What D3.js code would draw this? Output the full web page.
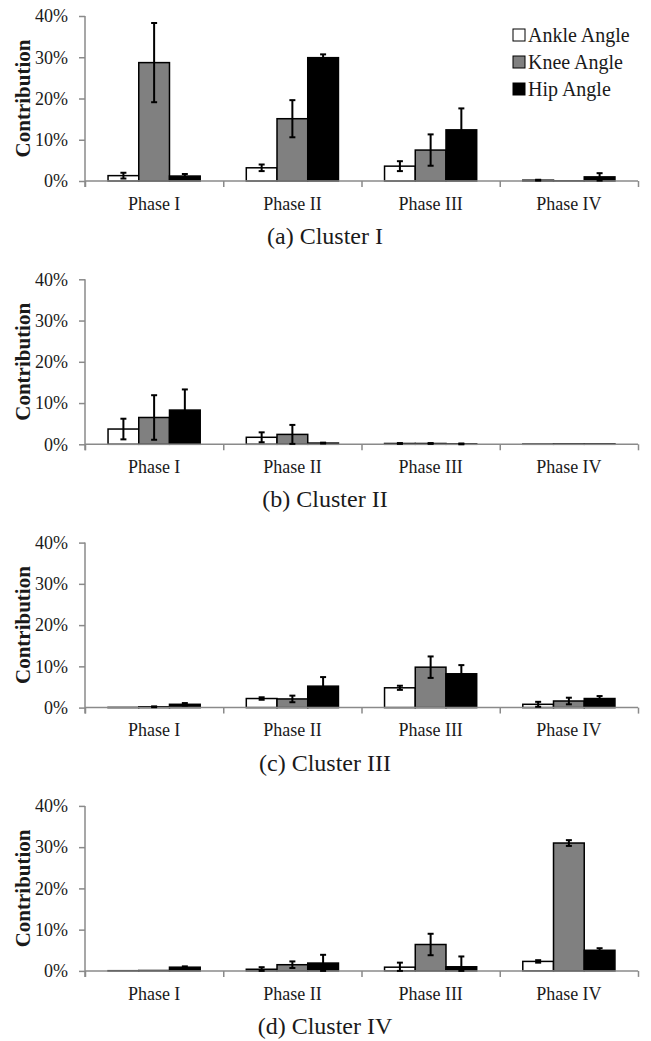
<!DOCTYPE html>
<html>
<head>
<meta charset="utf-8">
<script src="https://cdn.jsdelivr.net/npm/d3@7"></script>
<style>
  body { margin: 0; background: #fff; }
  svg { display: block; }
  text { font-family: "Liberation Serif", "Times New Roman", serif; fill: #1a1a1a; }
</style>
</head>
<body>
<div id="chart"></div>
<script>
// categories and series
const phases = ["Phase I", "Phase II", "Phase III", "Phase IV"];
const joints = ["Ankle Angle", "Knee Angle", "Hip Angle"];
const panelTitles = ["(a) Cluster I", "(b) Cluster II", "(c) Cluster III", "(d) Cluster IV"];
const yTicks = [0, 10, 20, 30, 40];

// mean contribution (%) per phase: [ankle, knee, hip]
const clusterIMeans   = [[1.3, 28.7, 1.2], [3.2, 15.1, 29.9], [3.6, 7.5, 12.4], [0.2, 0.05, 1.0]];
const clusterIErr     = [[0.7, 9.6, 0.5], [0.8, 4.5, 0.8], [1.2, 3.8, 5.2], [0.1, 0, 0.9]];
const clusterIIMeans  = [[3.7, 6.5, 8.3], [1.7, 2.4, 0.3], [0.2, 0.2, 0.1], [0.05, 0.1, 0.1]];
const clusterIIErr    = [[2.5, 5.4, 5.0], [1.2, 2.3, 0.1], [0.1, 0.1, 0.1], [0, 0, 0]];
const clusterIIIMeans = [[0.05, 0.2, 0.8], [2.2, 2.1, 5.2], [4.8, 9.8, 8.2], [0.8, 1.6, 2.2]];
const clusterIIIErr   = [[0, 0.1, 0.3], [0.3, 0.8, 2.2], [0.5, 2.6, 2.1], [0.6, 0.8, 0.6]];
const clusterIVMeans  = [[0.05, 0.1, 0.9], [0.4, 1.5, 1.9], [0.9, 6.4, 1.0], [2.3, 31.0, 5.0]];
const clusterIVErr    = [[0, 0, 0.2], [0.5, 0.8, 2.0], [1.1, 2.6, 2.5], [0.3, 0.7, 0.5]];

const allMeans = [clusterIMeans, clusterIIMeans, clusterIIIMeans, clusterIVMeans];
const allErr = [clusterIErr, clusterIIErr, clusterIIIErr, clusterIVErr];

const colors = {"Ankle Angle": "#ffffff", "Knee Angle": "#808080", "Hip Angle": "#000000"};
const axisColor = "#8a8a8a";

const W = 651, H = 1041;
const left = 85, right = 638;
const panelTop = 16, plotH = 165, panelStep = 263.3;

const svg = d3.select("#chart").append("svg")
    .attr("width", W)
    .attr("height", H);

const x = d3.scaleBand().domain(phases).range([left, right]).padding(0);
const xInner = d3.scaleBand().domain(joints).range([0, x.bandwidth()])
    .paddingInner(0).paddingOuter(0.75);
const xBound = d3.scaleLinear().domain([0, phases.length]).range([left, right]);

allMeans.forEach(function(means, p) {
    let top = panelTop + p * panelStep;
    let y = d3.scaleLinear().domain([0, 40]).range([top + plotH, top]);
    let g = svg.append("g");
    let base = y(0);

    // y axis
    let yAxis = g.append("g")
        .attr("transform", `translate(${left},0)`)
        .call(d3.axisLeft(y).tickValues(yTicks).tickFormat(d => d + "%").tickSize(6).tickPadding(11));
    yAxis.select(".domain").remove();
    yAxis.selectAll("line").attr("stroke", axisColor).attr("stroke-width", 1.5);
    yAxis.selectAll("text").attr("font-size", 18).attr("font-family", "Liberation Serif").attr("fill", "#1a1a1a");
    g.append("line")
        .attr("x1", left).attr("x2", left)
        .attr("y1", y(40)).attr("y2", base + 6)
        .attr("stroke", axisColor).attr("stroke-width", 1.5);

    // bars
    let rows = [];
    phases.forEach(function(ph, i) {
        joints.forEach(function(j, k) {
            rows.push({phase: ph, joint: j, value: means[i][k], err: allErr[p][i][k]});
        });
    });

    g.selectAll(".bar")
        .data(rows)
        .enter().append("rect")
        .attr("class", "bar")
        .attr("x", d => x(d.phase) + xInner(d.joint))
        .attr("y", d => y(d.value))
        .attr("width", xInner.bandwidth())
        .attr("height", d => base - y(d.value))
        .attr("fill", d => colors[d.joint])
        .attr("stroke", "#000")
        .attr("stroke-width", 1.5);

    // x axis
    g.append("line")
        .attr("x1", left).attr("x2", right)
        .attr("y1", base).attr("y2", base)
        .attr("stroke", axisColor).attr("stroke-width", 1.5);
    let xAxis = g.append("g")
        .attr("transform", `translate(0,${base})`)
        .call(d3.axisBottom(xBound).ticks(phases.length).tickFormat("").tickSize(6).tickSizeOuter(0));
    xAxis.select(".domain").remove();
    xAxis.selectAll("line").attr("stroke", axisColor).attr("stroke-width", 1.5);

    let xLab = g.append("g")
        .attr("transform", `translate(0,${base})`)
        .call(d3.axisBottom(x).tickSize(0).tickPadding(16));
    xLab.select(".domain").remove();
    xLab.selectAll("text").attr("font-size", 18).attr("font-family", "Liberation Serif").attr("fill", "#1a1a1a");

    // error bars
    let eb = g.selectAll(".err")
        .data(rows.filter(d => d.err > 0))
        .enter().append("g")
        .attr("class", "err")
        .attr("stroke", "#000")
        .attr("stroke-width", 2);
    let cx = d => x(d.phase) + xInner(d.joint) + xInner.bandwidth() / 2;
    eb.append("line")
        .attr("x1", cx).attr("x2", cx)
        .attr("y1", d => y(d.value + d.err))
        .attr("y2", d => y(Math.max(0, d.value - d.err)));
    eb.append("line")
        .attr("x1", d => cx(d) - 3).attr("x2", d => cx(d) + 3)
        .attr("y1", d => y(d.value + d.err)).attr("y2", d => y(d.value + d.err));
    eb.append("line")
        .attr("x1", d => cx(d) - 3).attr("x2", d => cx(d) + 3)
        .attr("y1", d => y(Math.max(0, d.value - d.err))).attr("y2", d => y(Math.max(0, d.value - d.err)));

    // y label
    g.append("text")
        .attr("transform", `translate(30,${(top + base) / 2}) rotate(-90)`)
        .attr("text-anchor", "middle")
        .attr("font-size", 21)
        .attr("font-weight", "bold")
        .text("Contribution");

    // panel title
    g.append("text")
        .attr("x", 325)
        .attr("y", base + 63)
        .attr("text-anchor", "middle")
        .attr("font-size", 24)
        .text(panelTitles[p]);
});

// legend (top panel only)
let legend = svg.append("g").attr("transform", "translate(513,0)");
joints.forEach(function(j, i) {
    let cy = 35 + i * 27;
    legend.append("rect")
        .attr("x", 0).attr("y", cy - 6)
        .attr("width", 12).attr("height", 12)
        .attr("fill", colors[j])
        .attr("stroke", "#000").attr("stroke-width", 1);
    legend.append("text")
        .attr("x", 15).attr("y", cy)
        .attr("dy", "0.35em")
        .attr("font-size", 20)
        .text(j);
});
</script>
</body>
</html>
